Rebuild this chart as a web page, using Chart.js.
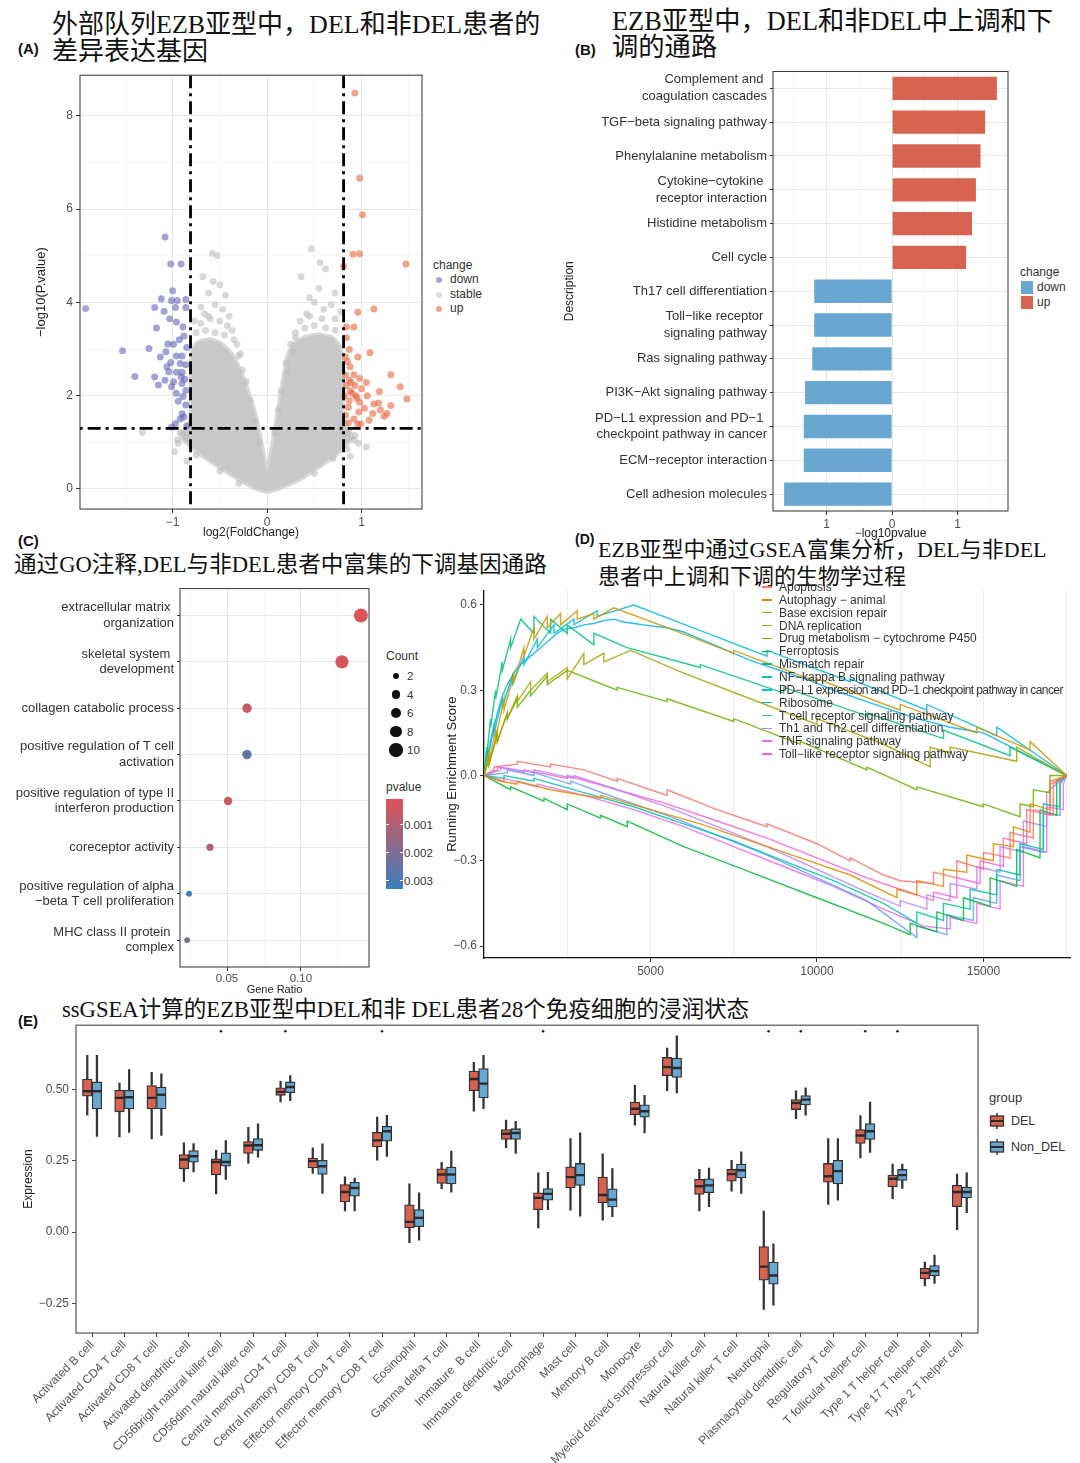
<!DOCTYPE html>
<html>
<head>
<meta charset="utf-8">
<title>EZB DEL vs non-DEL</title>
<script src="https://cdn.jsdelivr.net/npm/chart.js@4.4.1/dist/chart.umd.min.js"></script>
<style>
  body { margin: 0; background: #fff; }
  #page { position: relative; width: 1080px; height: 1463px; overflow: hidden; background: #fff;
          font-family: 'Liberation Sans', Arial, sans-serif; color: #222; }
  #page canvas { position: absolute; }
  .title { position: absolute; white-space: nowrap; color: #111;
           font-family: 'Liberation Serif', 'Noto Sans CJK SC', serif; }
  .tag { position: absolute; font-weight: bold; font-size: 15px; color: #111; }
  .lg { position: absolute; white-space: nowrap; font-size: 12px; color: #333; line-height: 14px; }
</style>
</head>
<body>
<div id="page">
  <!-- titles -->
  <div class="tag" style="left:18px;top:40px">(A)</div>
  <div class="title" style="left:52px;top:11px;font-size:26px;line-height:27px">外部队列EZB亚型中，DEL和非DEL患者的<br>差异表达基因</div>
  <div class="tag" style="left:575px;top:41px">(B)</div>
  <div class="title" style="left:612px;top:9px;font-size:26.3px;line-height:26px">EZB亚型中，DEL和非DEL中上调和下<br>调的通路</div>
  <div class="tag" style="left:18px;top:532px">(C)</div>
  <div class="title" style="left:14px;top:551px;font-size:22.6px;line-height:27px">通过GO注释,DEL与非DEL患者中富集的下调基因通路</div>
  <div class="tag" style="left:575px;top:531px;font-size:14px">(D)</div>
  <div class="title" style="left:598px;top:536px;font-size:22px;line-height:27px">EZB亚型中通过GSEA富集分析，DEL与非DEL<br>患者中上调和下调的生物学过程</div>
  <div class="tag" style="left:18px;top:1012px">(E)</div>
  <div class="title" style="left:62px;top:996px;font-size:22.6px;line-height:27px">ssGSEA计算的EZB亚型中DEL和非 DEL患者28个免疫细胞的浸润状态</div>

  <canvas id="cA" width="430" height="480" style="left:0px;top:65px;width:430px;height:480px"></canvas>
  <canvas id="cB" width="460" height="485" style="left:560px;top:60px;width:460px;height:485px"></canvas>
  <canvas id="cC" width="380" height="430" style="left:0px;top:570px;width:380px;height:430px"></canvas>
  <canvas id="cD" width="640" height="400" style="left:440px;top:580px;width:640px;height:400px"></canvas>
  <canvas id="cE" width="985" height="448" style="left:0px;top:1015px;width:985px;height:448px"></canvas>

  <div id="legends"></div>
</div>

<script>
// ---------------- data ----------------

// (A) volcano: log2FC / -log10(p)
const fcCut = 0.81;
const pCut = 1.3;
const downGenes = [
  [-1.08,5.40],[-1.02,4.82],[-0.91,4.82],[-1.00,4.25],[-1.12,4.08],[-1.01,4.04],[-0.95,4.04],[-0.86,4.06],
  [-1.19,3.89],[-0.97,3.89],[-0.86,3.89],[-1.92,3.87],[-1.09,3.81],[-1.03,3.65],[-0.96,3.58],[-1.17,3.45],
  [-0.89,3.47],[-0.88,3.28],[-1.05,3.11],[-0.85,3.03],[-1.25,3.01],[-1.53,2.96],[-1.07,2.94],[-0.96,2.85],
  [-0.90,2.85],[-1.13,2.83],[-1.02,2.71],[-0.92,2.69],[-0.86,2.66],[-0.96,2.50],[-0.90,2.50],[-1.04,2.51],
  [-1.40,2.41],[-1.19,2.40],[-1.08,2.33],[-0.91,2.40],[-1.15,2.23],[-1.01,2.19],[-0.90,2.26],[-0.86,2.11],
  [-0.96,2.05],[-0.89,1.98],[-0.94,1.88],[-0.86,1.80],[-0.90,1.61],[-0.88,1.54],[-0.92,1.50],[-0.97,1.40],
  [-0.85,1.35],[-1.01,1.33],[-0.99,3.10],[-0.93,3.20],[-1.06,2.62],[-0.87,2.35],[-0.99,2.30]
];
const upGenes = [
  [0.93,8.49],[0.98,6.66],[1.01,5.88],[0.91,5.03],[0.98,5.04],[1.47,4.82],[0.81,4.77],[1.13,3.86],
  [0.96,3.79],[0.84,3.47],[0.92,3.47],[0.84,3.24],[0.87,2.99],[1.09,2.92],[0.83,2.83],[0.96,2.83],
  [0.85,2.73],[0.88,2.62],[1.31,2.45],[0.83,2.45],[0.92,2.45],[0.98,2.37],[0.87,2.33],[1.05,2.28],
  [0.84,2.22],[0.93,2.22],[1.41,2.19],[1.00,2.15],[0.88,2.10],[1.19,2.09],[0.82,2.00],[0.94,2.00],
  [1.06,2.00],[0.87,1.89],[0.98,1.86],[1.48,1.93],[1.13,1.82],[1.18,1.84],[1.31,1.79],[0.86,1.75],
  [1.03,1.73],[1.20,1.69],[0.97,1.65],[1.27,1.62],[1.12,1.62],[0.83,1.58],[1.24,1.56],[0.92,1.50],
  [1.08,1.47],[0.99,1.40],[0.86,1.42],[0.96,1.39],[0.90,2.05],[0.95,1.95],[0.89,2.28]
];
const stableGenes = [
  [-0.58,5.05],[-0.53,5.00],[-0.68,4.55],[-0.57,4.45],[-0.50,4.38],[-0.44,4.15],[-0.62,4.20],[-0.55,3.95],
  [-0.47,3.85],[-0.70,3.90],[-0.40,3.70],[-0.66,3.75],[-0.37,3.40],[-0.32,3.10],[-0.30,2.85],[-0.26,2.55],
  [-0.22,2.30],[-0.77,3.60],[-0.60,3.65],[-0.94,0.98],[-1.32,1.21],[-0.98,0.80],[-0.90,1.20],[-0.85,0.60],
  [-0.75,3.35],[-0.65,3.40],[-0.55,3.35],[-0.45,3.30],[-0.70,3.55],[-0.50,3.60],[-0.35,3.20],[-0.28,2.90],
  [-0.62,3.70],[-0.42,3.50],[-0.30,0.12],[-0.50,0.38],[-0.75,0.72],[-0.86,1.10],[-0.92,1.20],[-0.95,1.05],
  [-0.18,1.90],[-0.13,1.45],[-0.08,1.00],
  [0.47,5.15],[0.56,4.85],[0.62,4.72],[0.36,4.55],[0.55,4.30],[0.45,4.10],[0.72,4.20],[0.68,3.95],
  [0.50,4.00],[0.60,3.85],[0.78,3.80],[0.42,3.75],[0.30,3.25],[0.27,2.95],[0.22,2.50],[0.72,3.65],
  [0.97,0.98],[1.05,0.90],[0.93,1.15],[0.88,0.70],[0.30,3.35],[0.40,3.45],[0.50,3.50],[0.62,3.45],
  [0.72,3.40],[0.35,3.60],[0.58,3.65],[0.45,3.70],[0.25,3.10],[0.20,2.70],[0.50,0.33],[0.70,0.65],
  [0.85,0.85],[0.86,1.20],[0.92,1.05],[0.12,1.70],[0.08,1.20],[0.15,2.10]
];
// outline of the dense cloud of stable genes
const stableCore = [
  [0,-0.06],[-0.14,0.03],[-0.28,0.19],[-0.45,0.4],[-0.6,0.6],[-0.71,0.76],[-0.82,0.95],[-0.9,1.1],
  [-0.86,1.3],[-0.81,1.45],[-0.8,2.0],[-0.8,2.6],[-0.79,3.0],[-0.72,3.15],[-0.6,3.2],[-0.48,3.1],
  [-0.38,2.9],[-0.3,2.6],[-0.24,2.3],[-0.19,2.0],[-0.14,1.7],[-0.1,1.35],[-0.06,0.95],[-0.02,0.5],
  [0,0.33],[0.02,0.5],[0.06,0.95],[0.09,1.35],[0.13,1.8],[0.17,2.3],[0.22,2.85],[0.28,3.1],
  [0.4,3.25],[0.55,3.3],[0.68,3.25],[0.77,3.05],[0.8,2.6],[0.8,2.0],[0.8,1.5],[0.85,1.3],
  [0.9,1.1],[0.82,0.92],[0.74,0.76],[0.6,0.55],[0.45,0.35],[0.37,0.24],[0.22,0.1],[0.1,0.0],[0,-0.06]
];

// (B) KEGG pathways
const pathways = [
  ['Complement and ', 'coagulation cascades'], 'TGF\u2212beta signaling pathway', 'Phenylalanine metabolism',
  ['Cytokine\u2212cytokine ', 'receptor interaction'], 'Histidine metabolism', 'Cell cycle',
  'Th17 cell differentiation', ['Toll\u2212like receptor ', 'signaling pathway'], 'Ras signaling pathway',
  'PI3K\u2212Akt signaling pathway', ['PD\u2212L1 expression and PD\u22121 ', 'checkpoint pathway in cancer'],
  'ECM\u2212receptor interaction', 'Cell adhesion molecules'
];
const pathwayLogP = [1.60, 1.42, 1.35, 1.28, 1.22, 1.13, 1.19, 1.19, 1.22, 1.33, 1.35, 1.35, 1.65];
const pathwayChange = ['up','up','up','up','up','up','down','down','down','down','down','down','down'];

// (C) GO terms
const goTerms = [
  ['extracellular matrix ', 'organization'], ['skeletal system ', 'development'], 'collagen catabolic process',
  ['positive regulation of T cell', 'activation'], ['positive regulation of type II', 'interferon production'],
  'coreceptor activity', ['positive regulation of alpha', '\u2212beta T cell proliferation'],
  ['MHC class II protein ', 'complex']
];
const goGeneRatio = [0.1405, 0.1277, 0.0635, 0.0635, 0.0507, 0.0385, 0.0243, 0.0230];
const goCount = [11, 10, 5, 5, 4, 3, 2, 2];
const goPvalue = [0.0001, 0.0002, 0.0006, 0.0026, 0.0005, 0.0010, 0.0032, 0.0019];
const countLegend = [2, 4, 6, 8, 10];
const pvalueLegend = [0.001, 0.002, 0.003];

// (D) GSEA running enrichment scores [rank, score]
const gseaSets = [
  'Apoptosis', 'Autophagy \u2212 animal', 'Base excision repair', 'DNA replication',
  'Drug metabolism \u2212 cytochrome P450', 'Ferroptosis', 'Mismatch repair', 'NF\u2212kappa B signaling pathway',
  'PD\u2212L1 expression and PD\u22121 checkpoint pathway in cancer', 'Ribosome', 'T cell receptor signaling pathway',
  'Th1 and Th2 cell differentiation', 'TNF signaling pathway', 'Toll\u2212like receptor signaling pathway'
];
const esApoptosis = [[0,0],[300,0.02],[300,0.03],[1000,0.04],[1000,0.05],[2000,0.03],[2000,0.04],[3000,0.02],[4000,-0.02],[4000,-0.01],[5500,-0.07],[5500,-0.05],[7000,-0.12],[8500,-0.18],[8500,-0.17],[10000,-0.24],[11000,-0.3],[11000,-0.29],[12000,-0.35],[12500,-0.37],[13500,-0.38],[13500,-0.34],[14200,-0.36],[14200,-0.3],[15000,-0.33],[15000,-0.27],[15800,-0.29],[15800,-0.2],[16500,-0.22],[16500,-0.12],[17100,-0.14],[17100,-0.03],[17500,0]];
const esAutophagy = [[0,0],[500,-0.02],[1000,-0.03],[1000,-0.02],[2000,-0.05],[3500,-0.08],[3500,-0.07],[5000,-0.12],[6500,-0.17],[8000,-0.23],[9500,-0.29],[11000,-0.35],[12400,-0.43],[12400,-0.4],[13000,-0.42],[13000,-0.37],[13800,-0.39],[13800,-0.33],[14500,-0.34],[14500,-0.28],[15300,-0.3],[15300,-0.24],[15900,-0.25],[15900,-0.18],[16400,-0.2],[16400,-0.1],[17000,-0.12],[17000,-0.02],[17500,0]];
const esBaseExcision = [[0,0],[150,0.08],[150,0.05],[350,0.16],[350,0.13],[600,0.27],[600,0.23],[900,0.36],[900,0.33],[1200,0.45],[1200,0.42],[1500,0.52],[1500,0.48],[1900,0.56],[1900,0.52],[2300,0.57],[2300,0.53],[2800,0.58],[2800,0.55],[3300,0.57],[3300,0.55],[3900,0.59],[5500,0.52],[7500,0.43],[7500,0.44],[10000,0.33],[10000,0.34],[12500,0.23],[12500,0.25],[14800,0.15],[14800,0.17],[16400,0.09],[16400,0.12],[17500,0]];
const esDnaReplication = [[0,0],[150,0.06],[150,0.04],[400,0.14],[400,0.12],[700,0.22],[700,0.2],[1000,0.28],[1000,0.26],[1400,0.33],[1400,0.3],[1900,0.36],[1900,0.33],[2500,0.38],[2500,0.34],[3000,0.43],[3000,0.39],[3600,0.43],[3600,0.4],[4400,0.44],[6000,0.36],[8000,0.27],[10000,0.18],[10000,0.2],[12000,0.11],[13400,0.03],[13400,0.1],[14000,0.08],[14000,0.1],[16000,0.05],[16000,0.1],[17500,0]];
const esDrugMetabolism = [[0,0],[150,0.06],[150,0.04],[400,0.15],[400,0.12],[700,0.22],[700,0.2],[1000,0.27],[1000,0.24],[1400,0.3],[1400,0.28],[1900,0.35],[1900,0.32],[2500,0.37],[4000,0.3],[4000,0.31],[5500,0.26],[5500,0.27],[7500,0.19],[7500,0.2],[9500,0.11],[9500,0.12],[11500,0.02],[11500,0.03],[13000,-0.05],[13000,-0.04],[15000,-0.11],[15000,-0.1],[16100,-0.145],[16100,-0.1],[16500,-0.11],[16500,-0.05],[17000,-0.06],[17000,0],[17500,0]];
const esFerroptosis = [[0,0],[800,-0.05],[800,-0.04],[1800,-0.09],[1800,-0.08],[2500,-0.12],[2500,-0.1],[3500,-0.15],[3500,-0.14],[4300,-0.18],[4300,-0.16],[6000,-0.25],[8000,-0.34],[10000,-0.43],[12000,-0.52],[12800,-0.56],[12800,-0.52],[13600,-0.55],[13600,-0.48],[14400,-0.51],[14400,-0.43],[15200,-0.46],[15200,-0.36],[16000,-0.39],[16000,-0.26],[16700,-0.29],[16700,-0.12],[17200,-0.14],[17200,-0.02],[17500,0]];
const esMismatch = [[0,0],[80,0.1],[80,0.07],[200,0.2],[200,0.17],[350,0.3],[350,0.27],[550,0.4],[550,0.37],[800,0.48],[800,0.45],[1100,0.55],[1500,0.5],[1500,0.56],[2000,0.5],[2000,0.55],[2500,0.5],[2500,0.53],[3300,0.46],[3300,0.5],[4300,0.45],[6500,0.38],[6500,0.39],[9000,0.29],[9000,0.31],[11500,0.21],[11500,0.22],[13800,0.13],[13800,0.16],[15800,0.07],[15800,0.1],[17500,0]];
const esNfkb = [[0,0],[600,-0.01],[600,0],[1500,-0.02],[1500,-0.01],[3000,-0.06],[4500,-0.11],[6000,-0.17],[7500,-0.23],[9000,-0.3],[10500,-0.37],[12000,-0.45],[13000,-0.52],[13000,-0.48],[13800,-0.51],[13800,-0.45],[14600,-0.47],[14600,-0.4],[15400,-0.42],[15400,-0.33],[16100,-0.35],[16100,-0.24],[16800,-0.26],[16800,-0.1],[17300,-0.11],[17300,-0.02],[17500,0]];
const esPdl1 = [[0,0],[100,0.09],[100,0.07],[300,0.18],[300,0.15],[550,0.27],[550,0.24],[850,0.35],[850,0.32],[1200,0.42],[1200,0.39],[1600,0.48],[1600,0.45],[2100,0.53],[2100,0.5],[2700,0.55],[2700,0.53],[3400,0.58],[3400,0.56],[4500,0.6],[6500,0.51],[8500,0.42],[8500,0.44],[11000,0.33],[11000,0.34],[13300,0.23],[13300,0.25],[15400,0.14],[15400,0.17],[17500,0]];
const esRibosome = [[0,0],[120,0.06],[250,0.14],[400,0.22],[550,0.28],[700,0.32],[850,0.35],[1000,0.38],[1200,0.4],[1400,0.42],[1600,0.44],[1800,0.46],[2000,0.48],[2200,0.5],[2400,0.515],[2700,0.52],[3000,0.53],[3300,0.535],[3600,0.545],[3900,0.55],[4200,0.54],[4500,0.535],[4800,0.53],[5100,0.525],[5500,0.52],[6000,0.505],[6500,0.48],[7000,0.455],[7500,0.43],[8000,0.405],[8500,0.385],[9000,0.365],[9500,0.345],[10000,0.325],[10500,0.3],[11000,0.28],[11500,0.26],[12000,0.24],[12500,0.22],[13000,0.2],[13500,0.185],[14000,0.17],[14500,0.16],[15000,0.15],[15500,0.12],[16000,0.09],[16500,0.06],[17000,0.03],[17500,0]];
const esTcr = [[0,0],[700,0.01],[700,0.02],[1500,0],[1500,0.01],[2600,-0.03],[2600,-0.02],[4000,-0.08],[5500,-0.14],[7000,-0.21],[8500,-0.28],[10000,-0.36],[11500,-0.44],[13000,-0.57],[13000,-0.53],[13900,-0.56],[13900,-0.49],[14700,-0.51],[14700,-0.43],[15400,-0.45],[15400,-0.35],[16100,-0.37],[16100,-0.25],[16800,-0.27],[16800,-0.13],[17300,-0.14],[17300,-0.03],[17500,0]];
const esTh1Th2 = [[0,0],[500,0.02],[500,0.03],[1500,0.01],[1500,0.02],[2700,-0.01],[2700,0],[4000,-0.05],[5500,-0.11],[7000,-0.18],[8500,-0.25],[10000,-0.33],[11500,-0.41],[12500,-0.46],[12500,-0.44],[13300,-0.47],[13300,-0.42],[14000,-0.44],[14000,-0.38],[14800,-0.4],[14800,-0.32],[15500,-0.34],[15500,-0.25],[16200,-0.27],[16200,-0.16],[16900,-0.18],[16900,-0.06],[17500,0]];
const esTnf = [[0,0],[600,-0.02],[600,-0.01],[1600,-0.04],[1600,-0.03],[3000,-0.07],[4500,-0.12],[6000,-0.18],[7500,-0.25],[9000,-0.32],[10500,-0.39],[12000,-0.47],[13200,-0.53],[14000,-0.54],[14000,-0.5],[14800,-0.52],[14800,-0.45],[15500,-0.47],[15500,-0.37],[16200,-0.39],[16200,-0.25],[16900,-0.27],[16900,-0.11],[17400,-0.12],[17400,-0.03],[17500,0]];
const esTollLike = [[0,0],[400,0.02],[400,0.03],[1200,0.01],[1200,0.02],[2500,-0.01],[2500,0],[4000,-0.05],[5500,-0.1],[7000,-0.16],[8500,-0.22],[10000,-0.29],[11500,-0.36],[12500,-0.4],[13500,-0.44],[13500,-0.41],[14200,-0.43],[14200,-0.36],[14900,-0.38],[14900,-0.3],[15600,-0.32],[15600,-0.22],[16300,-0.24],[16300,-0.12],[17000,-0.14],[17000,-0.03],[17500,0]];
const gseaScores = [esApoptosis, esAutophagy, esBaseExcision, esDnaReplication, esDrugMetabolism, esFerroptosis,
  esMismatch, esNfkb, esPdl1, esRibosome, esTcr, esTh1Th2, esTnf, esTollLike];

// (E) ssGSEA immune infiltration: [lower whisker, Q1, median, Q3, upper whisker]
const cellTypes = [
  'Activated B cell', 'Activated CD4 T cell', 'Activated CD8 T cell', 'Activated dendritic cell',
  'CD56bright natural killer cell', 'CD56dim natural killer cell', 'Central memory CD4 T cell',
  'Central memory CD8 T cell', 'Effector memory CD4 T cell', 'Effector memory CD8 T cell', 'Eosinophil',
  'Gamma delta T cell', 'Immature  B cell', 'Immature dendritic cell', 'Macrophage', 'Mast cell',
  'Memory B cell', 'Monocyte', 'Myeloid derived suppressor cell', 'Natural killer cell',
  'Natural killer T cell', 'Neutrophil', 'Plasmacytoid dendritic cell', 'Regulatory T cell',
  'T follicular helper cell', 'Type 1 T helper cell', 'Type 17 T helper cell', 'Type 2 T helper cell'
];
const delStats = [
  [0.41,0.477,0.494,0.537,0.62], [0.334,0.422,0.471,0.498,0.523], [0.327,0.432,0.471,0.514,0.561],
  [0.178,0.222,0.255,0.272,0.313], [0.134,0.201,0.246,0.257,0.287], [0.241,0.276,0.304,0.318,0.368],
  [0.457,0.48,0.492,0.506,0.529], [0.206,0.225,0.249,0.26,0.296], [0.074,0.106,0.141,0.167,0.194],
  [0.252,0.299,0.322,0.35,0.404], [-0.037,0.015,0.036,0.096,0.169], [0.152,0.171,0.202,0.222,0.245],
  [0.424,0.496,0.537,0.565,0.596], [0.296,0.325,0.345,0.36,0.393], [0.015,0.079,0.12,0.138,0.208],
  [0.077,0.155,0.193,0.229,0.328], [0.042,0.103,0.13,0.193,0.275], [0.375,0.412,0.433,0.456,0.515],
  [0.496,0.549,0.579,0.613,0.646], [0.074,0.132,0.161,0.185,0.22], [0.144,0.179,0.204,0.22,0.252],
  [-0.271,-0.169,-0.121,-0.051,0.074], [0.398,0.43,0.453,0.465,0.496], [0.097,0.175,0.196,0.241,0.328],
  [0.26,0.311,0.339,0.36,0.409], [0.117,0.159,0.187,0.2,0.239], [-0.189,-0.164,-0.143,-0.127,-0.105],
  [0.009,0.089,0.141,0.164,0.204]
];
const nonDelStats = [
  [0.336,0.432,0.494,0.527,0.62], [0.35,0.432,0.473,0.498,0.57], [0.339,0.432,0.482,0.509,0.555],
  [0.211,0.245,0.266,0.286,0.311], [0.185,0.231,0.246,0.278,0.321], [0.263,0.287,0.305,0.328,0.38],
  [0.461,0.489,0.509,0.527,0.549], [0.136,0.202,0.231,0.252,0.31], [0.074,0.126,0.155,0.175,0.19],
  [0.266,0.319,0.354,0.371,0.41], [-0.028,0.019,0.05,0.079,0.138], [0.14,0.169,0.202,0.228,0.284],
  [0.433,0.471,0.521,0.574,0.62], [0.276,0.325,0.348,0.363,0.389], [0.079,0.112,0.134,0.153,0.21],
  [0.056,0.164,0.2,0.241,0.348], [0.054,0.088,0.114,0.152,0.223], [0.348,0.403,0.424,0.447,0.48],
  [0.488,0.543,0.576,0.611,0.689], [0.089,0.138,0.164,0.187,0.225], [0.136,0.19,0.217,0.239,0.282],
  [-0.256,-0.183,-0.152,-0.105,-0.041], [0.41,0.446,0.465,0.479,0.506], [0.112,0.169,0.214,0.252,0.328],
  [0.28,0.325,0.354,0.381,0.456], [0.153,0.181,0.2,0.22,0.239], [-0.18,-0.154,-0.137,-0.117,-0.081],
  [0.068,0.12,0.141,0.158,0.208]
];
const signifCells = [4, 6, 9, 14, 21, 22, 24, 25];
const signifLevel = 0.705;

// ---------------- styles ----------------
const upRed = '#D86250';
const downBlue = '#68A7D0';
const hue14 = ['#F8766D','#E58700','#C99800','#A3A500','#6BB100','#00BA38','#00BF7D','#00C0AF',
               '#00BCD8','#00B0F6','#619CFF','#B983FF','#E76BF3','#FD61D1'];
const pRed = [224, 83, 88], pBlue = [58, 127, 190];
const pLo = 0.00007, pHi = 0.0033;

Chart.defaults.font.family = "'Liberation Sans', Arial, sans-serif";
Chart.defaults.font.size = 12;
Chart.defaults.color = '#4d4d4d';
Chart.defaults.animation = false;
Chart.defaults.plugins.legend.display = false;
Chart.defaults.plugins.tooltip.enabled = false;

// panel border like ggplot theme_bw
const framePlugin = {
  id: 'frame',
  afterDraw(chart, args, opts) {
    if (!opts || !opts.color) return;
    const { ctx, chartArea: a } = chart;
    ctx.save();
    ctx.strokeStyle = opts.color;
    ctx.lineWidth = opts.width || 1;
    ctx.strokeRect(a.left, a.top, a.right - a.left, a.bottom - a.top);
    ctx.restore();
  }
};
Chart.register(framePlugin);

function ticksAt(values) {
  return function(axis) { axis.ticks = values.map(v => ({ value: v })); };
}
function minus(v, digits) {
  const s = digits === undefined ? String(Math.abs(v)) : Math.abs(v).toFixed(digits);
  return v < 0 ? '\u2212' + s : s;
}
function near(a, b) { return Math.abs(a - b) < 1e-9; }
function pColor(p) {
  const t = Math.max(0, Math.min(1, (p - pLo) / (pHi - pLo)));
  const c = pRed.map((r, i) => Math.round(r + (pBlue[i] - r) * t));
  return 'rgb(' + c.join(',') + ')';
}
function countRadius(n) { return 2.1 * Math.sqrt(n); }

const minorGrid = {
  color: c => (c.tick && c.tick.major) ? '#e6e6e6' : '#f1f1f1',
  lineWidth: c => (c.tick && c.tick.major) ? 1 : 0.6,
  tickColor: c => (c.tick && c.tick.major) ? '#333' : 'rgba(0,0,0,0)',
  tickLength: 4
};

// ---------------- (A) volcano ----------------
const cutStyle = { type: 'line', borderColor: '#000', borderWidth: 2.8, borderDash: [13, 5, 3, 5],
  pointRadius: 0, fill: false, order: 0 };
new Chart(document.getElementById('cA'), {
  type: 'scatter',
  data: { datasets: [
    { type: 'line', data: stableCore, fill: 'shape', backgroundColor: '#c8c8c8', borderColor: 'rgba(200,200,200,0.7)',
      borderWidth: 5, pointRadius: 0, tension: 0.15, order: 10 },
    { data: stableGenes, backgroundColor: 'rgba(190,190,190,0.6)', pointRadius: 3.4, borderWidth: 0, order: 8 },
    { data: downGenes, backgroundColor: 'rgba(88,88,178,0.55)', pointRadius: 3.5, borderWidth: 0, order: 6 },
    { data: upGenes, backgroundColor: 'rgba(232,104,64,0.6)', pointRadius: 3.5, borderWidth: 0, order: 4 },
    Object.assign({ data: [[-fcCut, -2], [-fcCut, 12]] }, cutStyle),
    Object.assign({ data: [[fcCut, -2], [fcCut, 12]] }, cutStyle),
    Object.assign({ data: [[-3, pCut], [3, pCut]] }, cutStyle)
  ]},
  options: {
    responsive: false,
    layout: { padding: { top: 7, right: 8, left: 0, bottom: 0 } },
    plugins: { frame: { color: '#333', width: 1 } },
    scales: {
      x: {
        type: 'linear', min: -1.98, max: 1.64,
        afterBuildTicks: ticksAt([-1.5, -1, -0.5, 0, 0.5, 1, 1.5]),
        afterTickToLabelConversion: a => a.ticks.forEach(t => { t.major = Number.isInteger(t.value); }),
        afterFit: s => { s.height = 36; },
        ticks: { callback: v => Number.isInteger(v) ? minus(v) : '', maxRotation: 0, padding: 2 },
        grid: minorGrid, border: { display: false },
        title: { display: true, text: 'log2(FoldChange)', color: '#222', font: { size: 12 }, padding: { top: 0, bottom: 5 } }
      },
      y: {
        type: 'linear', min: -0.43, max: 8.87,
        afterBuildTicks: ticksAt([0, 1, 2, 3, 4, 5, 6, 7, 8]),
        afterTickToLabelConversion: a => a.ticks.forEach(t => { t.major = t.value % 2 === 0; }),
        afterFit: s => { s.width = 80; },
        ticks: { callback: v => v % 2 === 0 ? String(v) : '', padding: 3 },
        grid: minorGrid, border: { display: false },
        title: { display: true, text: '\u2212log10(P.value)', color: '#222', font: { size: 13 }, padding: { top: 34 } }
      }
    }
  }
});

// ---------------- (B) pathways ----------------
new Chart(document.getElementById('cB'), {
  type: 'bar',
  data: {
    labels: pathways,
    datasets: [{
      data: pathwayLogP.map((v, i) => pathwayChange[i] === 'down' ? -v : v),
      backgroundColor: pathwayChange.map(c => c === 'up' ? upRed : downBlue),
      barPercentage: 0.69, categoryPercentage: 1, borderWidth: 0
    }]
  },
  options: {
    responsive: false,
    indexAxis: 'y',
    layout: { padding: { top: 9, right: 12, left: 0, bottom: 0 } },
    plugins: { frame: { color: '#333', width: 1 } },
    scales: {
      x: {
        type: 'linear', min: -1.82, max: 1.77,
        afterBuildTicks: ticksAt([-1.5, -1, -0.5, 0, 0.5, 1, 1.5]),
        afterTickToLabelConversion: a => a.ticks.forEach(t => { t.major = Number.isInteger(t.value); }),
        afterFit: s => { s.height = 34; },
        ticks: { callback: v => Number.isInteger(v) ? String(Math.abs(v)) : '', maxRotation: 0, padding: 2 },
        grid: minorGrid, border: { display: false },
        title: { display: true, text: '\u2212log10pvalue', color: '#222', font: { size: 12 }, padding: { top: 0, bottom: 4 } }
      },
      y: {
        afterFit: s => { s.width = 213; },
        ticks: { color: '#333', font: { size: 13, lineHeight: 1.3 }, padding: 3, autoSkip: false },
        grid: { offset: false, color: '#e6e6e6', tickColor: '#333', tickLength: 3 },
        border: { display: false },
        title: { display: true, text: 'Description', color: '#222', font: { size: 12 }, padding: { top: 2 } }
      }
    }
  }
});

// ---------------- (C) GO dot plot ----------------
new Chart(document.getElementById('cC'), {
  type: 'bubble',
  data: { datasets: [{
    data: goGeneRatio.map((g, i) => ({ x: g, y: i, r: countRadius(goCount[i]) })),
    backgroundColor: goPvalue.map(pColor), borderWidth: 0
  }]},
  options: {
    responsive: false,
    layout: { padding: { top: 3, right: 11, left: 0, bottom: 0 } },
    plugins: { frame: { color: '#333', width: 1 } },
    scales: {
      x: {
        type: 'linear', min: 0.0182, max: 0.146,
        afterBuildTicks: ticksAt([0.025, 0.05, 0.075, 0.1, 0.125]),
        afterTickToLabelConversion: a => a.ticks.forEach(t => { t.major = near(t.value, 0.05) || near(t.value, 0.1); }),
        afterFit: s => { s.height = 33; },
        ticks: { callback: v => near(v, 0.05) ? '0.05' : (near(v, 0.1) ? '0.10' : ''), maxRotation: 0, padding: 1, font: { size: 11.5 } },
        grid: minorGrid, border: { display: false },
        title: { display: true, text: 'Gene Ratio', color: '#222', font: { size: 11 }, padding: { top: 0, bottom: 3 } }
      },
      y: {
        type: 'linear', reverse: true, min: -0.58, max: 7.58,
        afterBuildTicks: ticksAt([0, 1, 2, 3, 4, 5, 6, 7]),
        afterFit: s => { s.width = 180; },
        ticks: { callback: v => goTerms[v], color: '#333', font: { size: 13, lineHeight: 1.2 }, padding: 3 },
        grid: { color: '#e6e6e6', tickColor: '#333', tickLength: 3 },
        border: { display: false }
      }
    }
  }
});

// ---------------- (D) GSEA running scores ----------------
new Chart(document.getElementById('cD'), {
  type: 'line',
  data: { datasets: gseaScores.map((s, i) => ({
    label: gseaSets[i], data: s, borderColor: hue14[i] + 'D9', borderWidth: 1.4,
    pointRadius: 0, fill: false, tension: 0
  }))},
  options: {
    responsive: false,
    layout: { padding: { top: 5, right: 10, left: 0, bottom: 0 } },
    plugins: { frame: false },
    scales: {
      x: {
        type: 'linear', min: 0, max: 17600,
        afterBuildTicks: ticksAt([2500, 5000, 7500, 10000, 12500, 15000, 17500]),
        afterTickToLabelConversion: a => a.ticks.forEach(t => { t.major = t.value % 5000 === 0; }),
        afterFit: s => { s.height = 22; },
        ticks: { callback: v => v % 5000 === 0 ? String(v) : '', maxRotation: 0, padding: 2 },
        grid: { color: '#ececec', lineWidth: 1, tickColor: c => (c.tick && c.tick.major) ? '#333' : 'rgba(0,0,0,0)', tickLength: 4 },
        border: { display: true, color: '#111', width: 1.3 }
      },
      y: {
        type: 'linear', min: -0.642, max: 0.652,
        afterBuildTicks: ticksAt([-0.6, -0.3, 0, 0.3, 0.6]),
        afterFit: s => { s.width = 44; },
        ticks: { callback: v => minus(v, 1), padding: 3 },
        grid: { drawOnChartArea: false, tickColor: '#333', tickLength: 4 },
        border: { display: true, color: '#111', width: 1.3 },
        title: { display: true, text: 'Running Enrichment Score', color: '#222', font: { size: 13 }, padding: { top: 5 } }
      }
    }
  }
});

// ---------------- (E) ssGSEA boxplots ----------------
const dodge = 0.15;
function boxData(stats, shift, from, to) {
  return stats.map((s, i) => ({ x: i + shift, y: [s[from], s[to]] }));
}
function medianData(stats, shift) {
  return stats.map((s, i) => ({ x: i + shift, y: s[2] }));
}
new Chart(document.getElementById('cE'), {
  type: 'bar',
  data: { datasets: [
    { data: boxData(delStats, -dodge, 0, 4), backgroundColor: '#333', barThickness: 1.6, grouped: false, order: 5 },
    { data: boxData(nonDelStats, dodge, 0, 4), backgroundColor: '#333', barThickness: 1.6, grouped: false, order: 5 },
    { data: boxData(delStats, -dodge, 1, 3), backgroundColor: upRed, borderColor: '#333', borderWidth: 1.3,
      borderSkipped: false, barThickness: 9.6, grouped: false, order: 3 },
    { data: boxData(nonDelStats, dodge, 1, 3), backgroundColor: downBlue, borderColor: '#333', borderWidth: 1.3,
      borderSkipped: false, barThickness: 9.6, grouped: false, order: 3 },
    { type: 'line', data: medianData(delStats, -dodge), showLine: false, pointStyle: 'line', pointRadius: 4.6,
      pointBorderColor: '#2a2a2a', pointBorderWidth: 2.4, order: 1 },
    { type: 'line', data: medianData(nonDelStats, dodge), showLine: false, pointStyle: 'line', pointRadius: 4.6,
      pointBorderColor: '#2a2a2a', pointBorderWidth: 2.4, order: 1 },
    { type: 'line', data: signifCells.map(i => ({ x: i, y: signifLevel })), showLine: false, pointRadius: 1.3,
      pointBackgroundColor: '#222', pointBorderWidth: 0, order: 0 }
  ]},
  options: {
    responsive: false,
    layout: { padding: { top: 7, right: 4, left: 0, bottom: 0 } },
    plugins: { frame: { color: '#555', width: 1.2 } },
    scales: {
      x: {
        type: 'linear', min: -0.5, max: 27.5, offset: false,
        afterBuildTicks: ticksAt(cellTypes.map((c, i) => i)),
        afterFit: s => { s.height = 130; },
        ticks: { callback: v => cellTypes[v], autoSkip: false, minRotation: 45, maxRotation: 45, padding: 1,
                 font: { size: 12 }, color: '#555' },
        grid: { offset: false, drawOnChartArea: false, tickColor: '#444', tickLength: 4 },
        border: { display: false }
      },
      y: {
        type: 'linear', min: -0.354, max: 0.726,
        afterBuildTicks: ticksAt([-0.25, 0, 0.25, 0.5]),
        afterFit: s => { s.width = 76; },
        ticks: { callback: v => minus(v, 2), padding: 3, font: { size: 12 } },
        grid: { drawOnChartArea: false, tickColor: '#444', tickLength: 4 },
        border: { display: false },
        title: { display: true, text: 'Expression', color: '#222', font: { size: 12 }, padding: { top: 21 } }
      }
    }
  }
});

// ---------------- legends ----------------
(function buildLegends() {
  const host = document.getElementById('legends');
  let html = '';
  // (A)
  html += '<div class="lg" style="left:433px;top:258px">change</div>';
  [['down', 'rgba(88,88,178,0.55)'], ['stable', 'rgba(200,200,200,0.6)'], ['up', 'rgba(232,104,64,0.6)']].forEach((r, i) => {
    const cy = 280 + i * 14.5;
    html += '<div style="position:absolute;left:436px;top:' + (cy - 3) + 'px;width:6px;height:6px;border-radius:50%;background:' + r[1] + '"></div>';
    html += '<div class="lg" style="left:450px;top:' + (cy - 8) + 'px">' + r[0] + '</div>';
  });
  // (B)
  html += '<div class="lg" style="left:1020px;top:265px">change</div>';
  [['down', downBlue], ['up', upRed]].forEach((r, i) => {
    const top = 281 + i * 15;
    html += '<div style="position:absolute;left:1021px;top:' + top + 'px;width:12px;height:13px;background:' + r[1] + '"></div>';
    html += '<div class="lg" style="left:1037px;top:' + (top - 1) + 'px">' + r[0] + '</div>';
  });
  // (C)
  html += '<div class="lg" style="left:386px;top:649px">Count</div>';
  countLegend.forEach((n, i) => {
    const cy = 676 + i * 18.5, r = countRadius(n);
    html += '<div style="position:absolute;left:' + (396 - r) + 'px;top:' + (cy - r) + 'px;width:' + (2 * r) + 'px;height:' + (2 * r) + 'px;border-radius:50%;background:#111"></div>';
    html += '<div class="lg" style="left:407px;top:' + (cy - 7) + 'px;font-size:11.5px">' + n + '</div>';
  });
  html += '<div class="lg" style="left:386px;top:780px">pvalue</div>';
  html += '<div style="position:absolute;left:386px;top:799px;width:17px;height:90px;background:linear-gradient(to bottom,' + pColor(pLo) + ',' + pColor(pHi) + ')"></div>';
  pvalueLegend.forEach(p => {
    const cy = 799 + (p - pLo) / (pHi - pLo) * 90;
    html += '<div style="position:absolute;left:386px;top:' + (cy - 0.5) + 'px;width:3px;height:1px;background:#fff"></div>';
    html += '<div style="position:absolute;left:400px;top:' + (cy - 0.5) + 'px;width:3px;height:1px;background:#fff"></div>';
    html += '<div class="lg" style="left:404px;top:' + (cy - 7) + 'px;font-size:11.5px">' + p.toFixed(3) + '</div>';
  });
  // (D)
  gseaSets.forEach((name, i) => {
    const cy = 587 + i * 12.85;
    const squeeze = name.length > 40 ? 'letter-spacing:-0.6px;' : '';
    html += '<div style="position:absolute;left:762px;top:' + (cy - 0.75) + 'px;width:10px;height:1.5px;background:' + hue14[i] + '"></div>';
    html += '<div class="lg" style="left:779px;top:' + (cy - 7) + 'px;font-size:12px;' + squeeze + '">' + name + '</div>';
  });
  // (E)
  html += '<div class="lg" style="left:989px;top:1091px;font-size:13px">group</div>';
  [['DEL', upRed], ['Non_DEL', downBlue]].forEach((r, i) => {
    const top = 1113 + i * 26;
    html += '<svg style="position:absolute;left:989px;top:' + top + 'px" width="16" height="16">' +
      '<line x1="8" y1="0" x2="8" y2="16" stroke="#333" stroke-width="1.5"/>' +
      '<rect x="1.5" y="3" width="13" height="10" fill="' + r[1] + '" stroke="#333" stroke-width="1.3"/>' +
      '<line x1="1.5" y1="8" x2="14.5" y2="8" stroke="#2a2a2a" stroke-width="2"/></svg>';
    html += '<div class="lg" style="left:1011px;top:' + (top + 1) + 'px;font-size:12.5px">' + r[0] + '</div>';
  });
  host.innerHTML = html;
})();
</script>
</body>
</html>
